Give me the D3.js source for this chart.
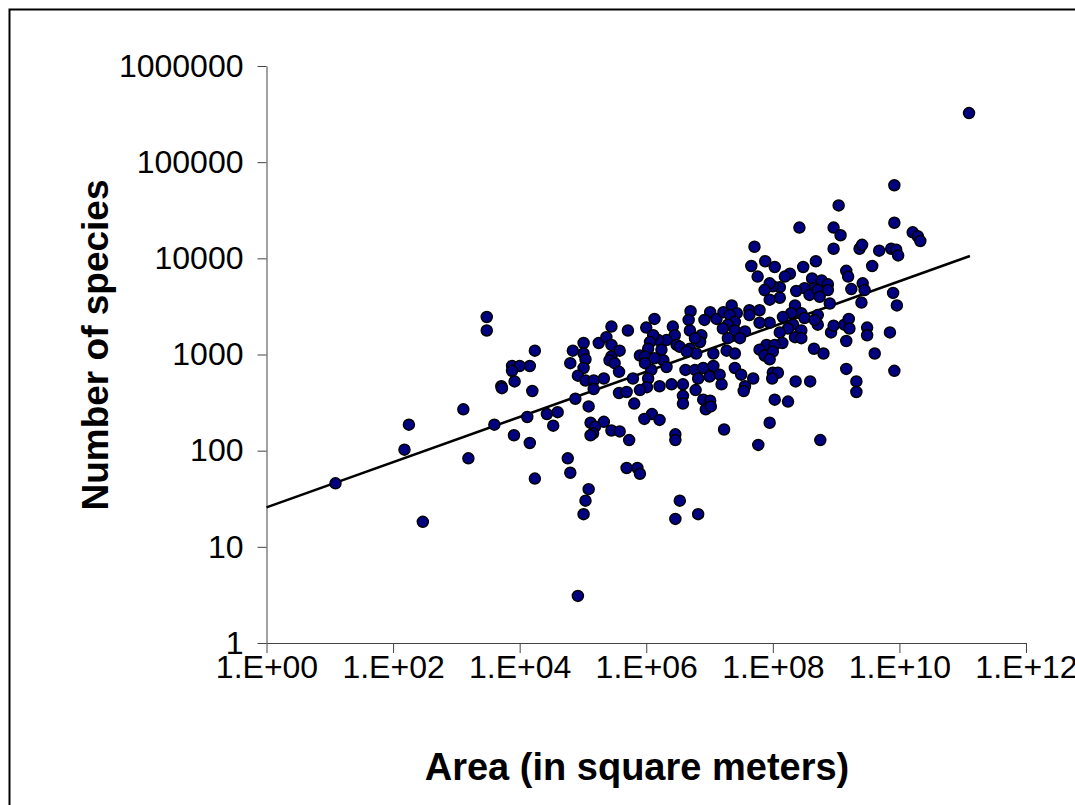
<!DOCTYPE html>
<html lang="en">
<head>
    <meta charset="UTF-8">
    <title>Species-area</title>
    <script src="https://d3js.org/d3.v7.min.js"></script>
</head>
<body style="margin: 0px; background: #fff;">
<script>
    // values, as log10 (area in m2, number of species)
    var logArea = [
        1.09,2.18,2.25,2.47,3.11,3.19,
        3.48,3.48,4.24,3.88,4.00,4.16,3.88,3.92,3.71,3.72,4.20,3.60,4.12,4.43,4.60,4.53,4.88,5.09,
        4.84,4.80,5.01,5.01,5.04,5.01,4.92,5.04,5.17,5.17,5.33,5.25,5.37,5.45,5.45,5.45,5.42,5.50,
        5.58,5.57,5.57,5.12,5.33,5.19,
        3.91,4.16,4.76,4.80,4.24,5.09,5.04,5.01,4.92,5.16,5.12,5.45,5.58,
        7.66,7.76,5.71,6.13,6.00,6.42,6.70,6.67,6.69,7.01,6.92,7.11,7.22,7.35,7.43,7.32,7.40,7.29,
        7.21,7.40,7.56,7.63,7.63,7.79,7.29,7.48,6.87,6.85,6.77,6.45,6.32,6.19,6.11,6.06,6.48,6.53,
        6.69,6.79,6.64,7.06,7.27,7.40,6.03,5.90,5.98,6.24,6.27,6.13,6.32,6.08,5.98,5.79,6.03,6.62,
        6.77,6.90,7.06,6.82,7.00,7.16,7.40,7.50,7.69,6.58,6.40,6.21,6.01,7.19,7.56,
        5.69,5.90,5.81,6.58,6.58,6.78,6.90,7.01,6.94,7.02,7.54,6.09,5.97,6.21,7.23,5.73,6.46,6.46,
        7.77,5.69,5.86,5.90,6.53,6.46,6.82,
        9.92,9.04,8.42,8.96,9.07,9.92,8.96,9.37,9.41,9.68,9.87,9.95,9.98,8.68,8.48,7.88,8.03,7.71,
        9.16,9.19,9.57,8.27,8.19,8.62,8.77,8.87,8.65,8.50,8.37,8.11,8.00,7.95,7.87,8.11,8.58,8.71,
        8.87,9.24,9.42,9.45,9.90,
        7.95,8.35,8.45,8.29,8.50,8.16,7.95,7.79,8.32,8.45,8.24,8.11,8.35,8.45,8.15,7.90,8.03,7.79,
        7.87,8.00,7.95,8.65,8.80,8.71,8.71,8.66,8.90,8.74,9.40,8.92,8.96,9.13,9.20,9.21,9.16,9.49,
        9.49,9.85,9.96,9.61,9.92,9.16,9.32,9.32,8.00,8.08,7.99,8.36,8.59,8.03,8.24,7.95,8.75,
        11.10,10.21,10.29,10.33
    ];
    var logSpecies = [
        1.66,2.01,2.27,1.26,2.43,1.92,
        3.39,3.25,3.04,2.88,2.88,2.88,2.83,2.72,2.67,2.65,2.62,2.27,2.35,2.38,2.40,2.26,2.54,2.46,
        3.04,2.91,3.12,3.01,2.95,2.86,2.78,2.73,2.73,2.64,2.75,3.12,3.18,3.29,3.10,2.98,2.94,2.91,
        3.04,2.82,2.60,2.29,2.30,2.25,
        2.16,2.08,1.92,1.77,1.71,1.60,1.48,1.34,0.49,2.18,2.16,2.21,2.20,
        3.92,3.81,3.25,3.37,3.28,3.29,3.45,3.36,3.25,3.44,3.36,3.37,3.44,3.51,3.43,3.41,3.34,3.31,
        3.27,3.25,3.24,3.46,3.41,3.46,3.17,3.17,3.20,3.13,3.17,3.20,3.15,3.15,3.20,3.13,3.10,3.08,
        3.06,3.01,3.03,3.01,3.04,3.01,3.06,2.99,2.98,3.05,2.94,2.96,2.87,2.84,2.91,2.75,2.75,2.84,
        2.84,2.86,2.88,2.75,2.77,2.79,2.86,2.79,2.75,2.69,2.69,2.67,2.66,2.69,2.67,
        2.61,2.63,2.49,2.57,2.49,2.63,2.53,2.52,2.43,2.46,2.62,2.38,2.33,2.32,2.22,2.11,2.17,2.11,
        2.06,1.82,1.82,1.76,1.48,1.29,1.34,
        4.76,4.55,4.32,4.32,4.24,4.37,4.10,4.10,4.14,4.08,4.10,4.09,4.03,3.97,3.91,3.97,3.91,4.12,
        3.87,3.81,3.92,3.84,3.81,3.79,3.77,3.73,3.69,3.69,3.66,3.70,3.71,3.74,3.67,3.59,3.62,3.67,
        3.67,3.68,3.74,3.67,3.64,
        3.57,3.51,3.43,3.43,3.38,3.39,3.33,3.33,3.31,3.25,3.27,3.23,3.18,3.17,3.12,3.10,3.10,3.05,
        2.99,3.03,2.95,3.06,3.01,3.41,3.31,3.36,3.53,3.60,3.54,3.23,3.30,3.31,3.37,3.27,3.14,3.28,
        3.20,3.23,3.51,3.01,2.83,2.85,2.72,2.61,2.81,2.81,2.75,2.72,2.72,2.53,2.51,2.29,2.11,
        5.51,4.27,4.23,4.18
    ];
    // fitted line, start and end
    var trendArea = [1, 1.3e11];
    var trendSpecies = [25.7, 10570];
    var xTicks = [1, 1e2, 1e4, 1e6, 1e8, 1e10, 1e12];
    var yTicks = [1, 10, 100, 1000, 10000, 100000, 1000000];

    var width = 1075, height = 805;
    var svg = d3.select('body').append('svg')
            .attr('width', width)
            .attr('height', height)
            .style('display', 'block')
            .style('font-family', '"Liberation Sans", Arial, sans-serif');

    // outer frame, right and bottom edges fall outside the picture
    svg.append('rect')
            .attr('x', 9.5).attr('y', 9.5)
            .attr('width', width + 20).attr('height', height + 20)
            .attr('fill', 'none')
            .attr('stroke', '#000')
            .attr('stroke-width', 2);

    var x = d3.scaleLog().domain([1, 1e12]).range([266.5, 1026]);
    var y = d3.scaleLog().domain([1, 1e6]).range([643, 66]);

    var xAxis = d3.axisBottom(x).tickValues(xTicks).tickSize(10).tickSizeOuter(0)
            .tickFormat(function (d) {
                var e = Math.round(Math.log10(d));
                return '1.E+' + (e < 10 ? '0' + e : e);
            });
    var yAxis = d3.axisLeft(y).tickValues(yTicks).tickSize(9).tickSizeOuter(0)
            .tickFormat(d3.format('d'));

    var gx = svg.append('g').attr('transform', 'translate(0,643)').call(xAxis);
    var gy = svg.append('g').attr('transform', 'translate(266.5,0)').call(yAxis);
    [gx, gy].forEach(function (g) {
        g.selectAll('path, line').attr('stroke', '#444').attr('stroke-width', 1);
        g.selectAll('text').attr('fill', '#000').style('font-size', '32px')
                .style('font-family', '"Liberation Sans", Arial, sans-serif');
    });
    gx.selectAll('text').attr('y', 12).attr('dy', '0.71em');
    gy.selectAll('text').attr('x', -23);

    // fitted line
    var line = d3.line()
            .x(function (d) { return x(d[0]); })
            .y(function (d) { return y(d[1]); });
    svg.append('path')
            .datum(d3.zip(trendArea, trendSpecies))
            .attr('d', line)
            .attr('fill', 'none')
            .attr('stroke', '#000')
            .attr('stroke-width', 2.5);

    svg.append('g').selectAll('circle')
            .data(d3.zip(logArea, logSpecies))
            .enter().append('circle')
            .attr('cx', function (d) { return x(Math.pow(10, d[0])); })
            .attr('cy', function (d) { return y(Math.pow(10, d[1])); })
            .attr('r', 5.5)
            .attr('fill', '#000080')
            .attr('stroke', '#000')
            .attr('stroke-width', 1.5);

    svg.append('text')
            .attr('transform', 'translate(95,345) rotate(-90)')
            .attr('text-anchor', 'middle')
            .attr('dy', '0.35em')
            .style('font-size', '37px')
            .style('font-weight', 'bold')
            .text('Number of species');

    svg.append('text')
            .attr('x', 637)
            .attr('y', 767)
            .attr('text-anchor', 'middle')
            .attr('dy', '0.35em')
            .style('font-size', '38px')
            .style('font-weight', 'bold')
            .text('Area (in square meters)');
</script>
</body>
</html>
